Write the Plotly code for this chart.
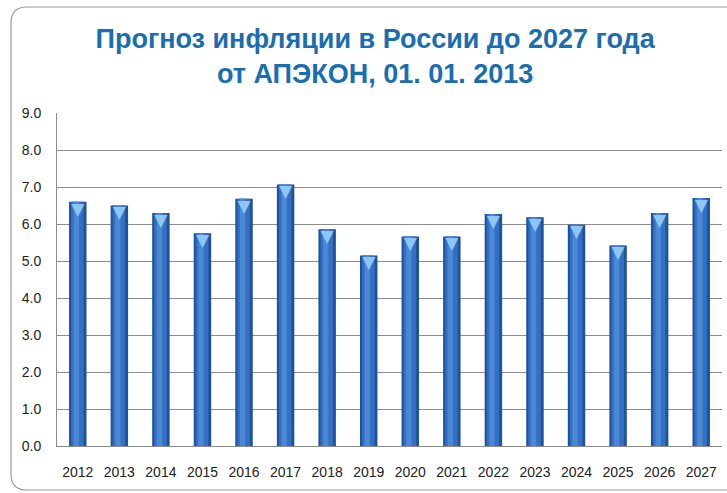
import plotly.graph_objects as go

years = ["2012", "2013", "2014", "2015", "2016", "2017", "2018", "2019",
         "2020", "2021", "2022", "2023", "2024", "2025", "2026", "2027"]
inflation = [6.6, 6.5, 6.3, 5.75, 6.68, 7.07, 5.86, 5.15,
             5.66, 5.66, 6.27, 6.18, 5.98, 5.42, 6.3, 6.7]
y_ticks = [0, 1, 2, 3, 4, 5, 6, 7, 8, 9]
title_text = "Прогноз инфляции в России до 2027 года<br>от АПЭКОН, 01. 01. 2013"

W, H = 727, 493
L, R, T, B = 57, 5, 113, 47
pw, ph = W - L - R, H - T - B
FONT = "Liberation Sans, Arial, sans-serif"


def px(x):
    return (x - L) / pw


def py(y):
    return (H - B - y) / ph


fig = go.Figure()
# cylinder-like shading: dark outer, medium, light highlight
fig.add_trace(go.Bar(x=years, y=inflation, width=0.42,
                     marker=dict(color="#1f519c", line=dict(width=0)),
                     hoverinfo="x+y"))
fig.add_trace(go.Bar(x=years, y=inflation, width=0.30, offset=-0.16,
                     marker=dict(color="#3470c2", line=dict(width=0)),
                     hoverinfo="skip"))
fig.add_trace(go.Bar(x=years, y=inflation, width=0.13, offset=-0.1,
                     marker=dict(color="#4a88d6", line=dict(width=0)),
                     hoverinfo="skip"))
# light cone tip on top of each bar
fig.add_trace(go.Scatter(x=years, y=inflation, mode="text", text=["▼"] * len(years),
                         textposition="bottom center",
                         textfont=dict(family="DejaVu Sans", size=17, color="#8cc6f4"),
                         hoverinfo="skip"))

# rounded frame around the chart
x0, y0, x1, y1, r = 11, 7, 735, 490, 16
path = (f"M {px(x0 + r)} {py(y0)} L {px(x1)} {py(y0)} L {px(x1)} {py(y1)} "
        f"L {px(x0 + r)} {py(y1)} Q {px(x0)} {py(y1)} {px(x0)} {py(y1 - r)} "
        f"L {px(x0)} {py(y0 + r)} Q {px(x0)} {py(y0)} {px(x0 + r)} {py(y0)}")
fig.add_shape(type="path", path=path, xref="paper", yref="paper",
              line=dict(color="#9a9a9a", width=1.2), layer="below")

fig.update_layout(
    width=W, height=H,
    margin=dict(l=L, r=R, t=T, b=B),
    barmode="overlay",
    showlegend=False,
    paper_bgcolor="#ffffff",
    plot_bgcolor="#ffffff",
    title=dict(text=title_text, x=0.516, xanchor="center", y=0.903, yanchor="middle",
               font=dict(family=FONT, size=27, color="#1a6db0", weight="bold")),
    xaxis=dict(type="category", categoryorder="array", categoryarray=years,
               range=[-0.5, len(years) - 0.5],
               showgrid=False, showline=True, linecolor="#8c8c8c",
               linewidth=1, ticks="", ticklabelstandoff=13,
               tickfont=dict(family=FONT, size=14, color="#222222")),
    yaxis=dict(range=[0, 9], tickvals=y_ticks, tickformat=".1f", showgrid=True,
               gridcolor="#8c8c8c", gridwidth=1, showline=True, linecolor="#8c8c8c",
               zeroline=False, ticks="", ticklabelstandoff=12,
               tickfont=dict(family=FONT, size=14, color="#222222")),
)

fig.write_html("out.html", config={"displayModeBar": False},
               post_script="document.body.style.margin='0';")
